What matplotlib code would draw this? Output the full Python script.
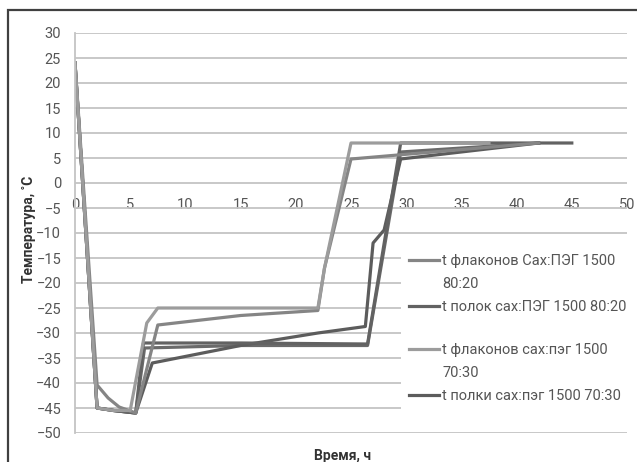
import matplotlib
matplotlib.use('Agg')
import matplotlib.pyplot as plt
from matplotlib.lines import Line2D

plt.rcParams['font.family'] = ['Roboto', 'DejaVu Sans']

# time, h / temperature, C
x_fl_80 = [0, 2, 3, 4, 5.5, 7.5, 15, 22, 22.6, 25, 42]
y_fl_80 = [24, -40.4, -43, -44.8, -46, -28.4, -26.5, -25.5, -17, 4.8, 8]

x_pol_80 = [0, 2, 3.5, 5.5, 6.2, 15, 26.5, 29.5, 45]
y_pol_80 = [24, -45, -45.5, -46, -32, -32, -32.2, 8, 8]

x_fl_70 = [0, 2, 3.5, 5, 6.5, 7.5, 22, 22.6, 25, 37.5]
y_fl_70 = [24, -45, -45.5, -45.5, -28, -25, -25, -17, 8, 8]

x_pol_70 = [0, 2, 3.5, 5.5, 7, 15, 22, 26.3, 27, 28, 29.5, 42]
y_pol_70 = [24, -45, -45.5, -46, -36, -32.5, -30, -28.7, -12, -9.4, 4.8, 8]

x_extra = [0, 2, 3.5, 5.5, 6.3, 15, 26.5, 29.5, 42]
y_extra = [24, -45, -45.5, -46, -33, -32.5, -32.5, 6.2, 8]

fig = plt.figure(figsize=(6.37, 4.62), dpi=100)
ax = fig.add_axes([75/637, 1-433/462, 552/637, 400/462])

# chart border
fig.patches.append(plt.Rectangle((8/637, -0.2), 1.2, 1.2 - 10/462, transform=fig.transFigure,
                                 fill=False, ec='#404040', lw=1.6))

lw = 2.3
ax.plot(x_extra, y_extra, color='#6a6a6a', lw=lw)
l4, = ax.plot(x_pol_70, y_pol_70, color='#5c5c5c', lw=lw)
l2, = ax.plot(x_pol_80, y_pol_80, color='#626262', lw=lw)
l1, = ax.plot(x_fl_80, y_fl_80, color='#858585', lw=lw)
l3, = ax.plot(x_fl_70, y_fl_70, color='#9c9c9c', lw=lw)

ax.set_xlim(0, 50)
ax.set_ylim(-50, 30)
ax.set_xticks(range(0, 51, 5))
ax.set_yticks(range(-50, 31, 5))
ax.grid(axis='y', color='#c4c4c4', lw=1.3)
ax.set_axisbelow(True)

for s in ['top', 'right']:
    ax.spines[s].set_visible(False)
ax.spines['left'].set_color('#c4c4c4')
ax.spines['left'].set_linewidth(1.3)
ax.spines['bottom'].set_position(('data', 0))
ax.spines['bottom'].set_visible(False)
ax.tick_params(axis='y', length=0, pad=10, labelsize=10.5, labelcolor='#555555')
ax.tick_params(axis='x', length=0, pad=11, labelsize=10.5, labelcolor='#555555')

ax.set_xlabel('Время, ч', fontsize=10, fontweight='bold', color='#333333')
ax.xaxis.set_label_coords(0.484, -0.04)
ax.set_ylabel('Температура, ˚С', fontsize=10, fontweight='bold', color='#333333')
ax.yaxis.set_label_coords(-0.07, 0.51)

# legend: wrapped labels keep the line on the first text row, as in the original
blank = Line2D([], [], color='none')
handles = [l1, blank, l2, blank, l3, blank, l4]
texts = ['t флаконов Сах:ПЭГ 1500', '80:20', 't полок сах:ПЭГ 1500 80:20', ' ',
         't флаконов сах:пэг 1500', '70:30', 't полки сах:пэг 1500 70:30']
leg = ax.legend(handles, texts, loc='upper left', bbox_to_anchor=(0.59, 0.47),
                frameon=True, fontsize=10.5, labelcolor='#555555', handlelength=2.05,
                handletextpad=0.2, labelspacing=0.62, borderaxespad=0, borderpad=0.6)
leg.get_texts()[3].set_fontsize(6)
leg.get_frame().set_edgecolor('none')
leg.get_frame().set_facecolor('white')
leg.get_frame().set_alpha(1)

plt.savefig('out.png', dpi=100)
